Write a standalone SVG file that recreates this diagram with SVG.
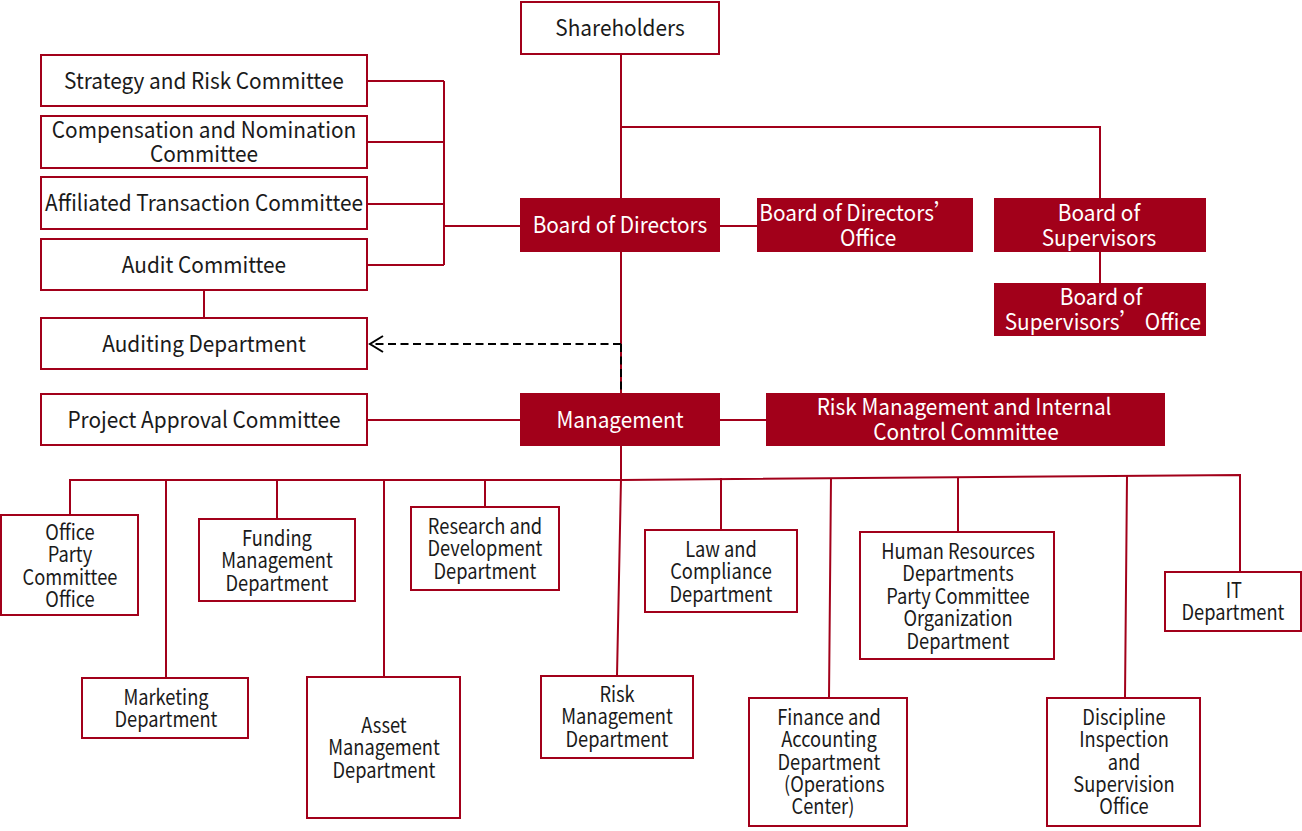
<svg xmlns="http://www.w3.org/2000/svg" width="1302" height="831" viewBox="0 0 1302 831">
<style>
.box{fill:#fff;stroke:#A2001A;stroke-width:2}
.fill{fill:#A2001A;stroke:none}
.t{font-family:"Noto Sans CJK SC","Noto Sans",sans-serif;font-size:22.5px;fill:#1a1a1a;text-anchor:middle}
.w{fill:#fff}
.s{font-size:21px}
.ln{stroke:#A2001A;stroke-width:2;fill:none}
.dash{stroke:#000;stroke-width:2;fill:none;stroke-dasharray:8,4.5}
</style>
<defs>
<marker id="arr" viewBox="-16 -10 18 20" refX="0" refY="0" markerWidth="18" markerHeight="20" markerUnits="userSpaceOnUse" orient="auto" overflow="visible">
<path d="M-13,-8 L0,0 L-13,8" fill="none" stroke="#000" stroke-width="2"/>
</marker>
</defs>
<rect width="1302" height="831" fill="#fff"/>
<g id="connectors">
<path class="ln" d="M621,54 V198 M621,127 H1100 V198 M1100,252 V283"/>
<path class="ln" d="M367,81 H444 M367,142 H444 M367,204 H444 M367,265 H444 M444,81 V265 M444,226 H520"/>
<path class="ln" d="M720,226 H757"/>
<path class="ln" d="M204,290 V318"/>
<path class="ln" d="M621,252 V393"/>
<path class="dash" d="M621,344 V393"/>
<path class="dash" d="M621,344 H370" marker-end="url(#arr)"/>
<path class="ln" d="M367,420 H520 M720,420 H766"/>
<path class="ln" d="M621,446 V479 M70,515 V480 H621 L1240,475 V572"/>
<path class="ln" d="M166,481 V678 M277,480 V519 M384,480 V677 M485,480 V507 M621,479 L617,676 M721,478 V530 M831,478 L829,698 M958,477 V532 M1127,476 L1125,698"/>
</g>
<g id="shareholders"><rect class="box" x="521" y="2" width="198" height="52"/><text class="t" transform="translate(620,0) scale(.925,1)"><tspan x="0" y="36">Shareholders</tspan></text></g>
<g id="strategy"><rect class="box" x="41" y="55" width="326" height="51"/><text class="t" transform="translate(204,0) scale(.925,1)"><tspan x="0" y="89">Strategy and Risk Committee</tspan></text></g>
<g id="compensation"><rect class="box" x="41" y="116" width="326" height="52"/><text class="t" transform="translate(204,0) scale(.925,1)"><tspan x="0" y="138">Compensation and Nomination</tspan><tspan x="0" y="162">Committee</tspan></text></g>
<g id="affiliated"><rect class="box" x="41" y="177" width="326" height="52"/><text class="t" transform="translate(204,0) scale(.925,1)"><tspan x="0" y="211">Affiliated Transaction Committee</tspan></text></g>
<g id="audit"><rect class="box" x="41" y="239" width="326" height="51"/><text class="t" transform="translate(204,0) scale(.925,1)"><tspan x="0" y="273">Audit Committee</tspan></text></g>
<g id="auditing"><rect class="box" x="41" y="318" width="326" height="51"/><text class="t" transform="translate(204,0) scale(.925,1)"><tspan x="0" y="352">Auditing Department</tspan></text></g>
<g id="project"><rect class="box" x="41" y="394" width="326" height="51"/><text class="t" transform="translate(204,0) scale(.925,1)"><tspan x="0" y="428">Project Approval Committee</tspan></text></g>
<g id="bod"><rect class="fill" x="520" y="198" width="200" height="54"/><text class="t w" transform="translate(620,0) scale(.925,1)"><tspan x="0" y="233">Board of Directors</tspan></text></g>
<g id="bodoffice"><rect class="fill" x="757" y="198" width="216" height="54"/><text class="t w" transform="translate(857,0) scale(.925,1)"><tspan x="0" y="221">Board of Directors’</tspan><tspan x="12" y="246">Office</tspan></text></g>
<g id="bos"><rect class="fill" x="994" y="198" width="212" height="54"/><text class="t w" transform="translate(1099,0) scale(.925,1)"><tspan x="0" y="221">Board of</tspan><tspan x="0" y="246">Supervisors</tspan></text></g>
<g id="bosoffice"><rect class="fill" x="994" y="283" width="212" height="53"/><text class="t w" transform="translate(1101,0) scale(.925,1)"><tspan x="0" y="305">Board of</tspan><tspan x="2" y="330">Supervisors’   Office</tspan></text></g>
<g id="management"><rect class="fill" x="520" y="393" width="200" height="53"/><text class="t w" transform="translate(620,0) scale(.925,1)"><tspan x="0" y="428">Management</tspan></text></g>
<g id="riskcontrol"><rect class="fill" x="766" y="393" width="399" height="53"/><text class="t w" transform="translate(965,0) scale(.925,1)"><tspan x="-1" y="415">Risk Management and Internal</tspan><tspan x="1" y="440">Control Committee</tspan></text></g>
<g id="officeparty"><rect class="box" x="1" y="515" width="137" height="100"/><text class="t s" transform="translate(70,0) scale(.87,1)"><tspan x="0" y="540">Office</tspan><tspan x="0" y="562">Party</tspan><tspan x="0" y="585">Committee</tspan><tspan x="0" y="607">Office</tspan></text></g>
<g id="marketing"><rect class="box" x="82" y="678" width="166" height="60"/><text class="t s" transform="translate(166,0) scale(.87,1)"><tspan x="0" y="705">Marketing</tspan><tspan x="0" y="727">Department</tspan></text></g>
<g id="funding"><rect class="box" x="199" y="519" width="156" height="82"/><text class="t s" transform="translate(277,0) scale(.87,1)"><tspan x="0" y="546">Funding</tspan><tspan x="0" y="568">Management</tspan><tspan x="0" y="591">Department</tspan></text></g>
<g id="asset"><rect class="box" x="307" y="677" width="153" height="141"/><text class="t s" transform="translate(384,0) scale(.87,1)"><tspan x="0" y="733">Asset</tspan><tspan x="0" y="755">Management</tspan><tspan x="0" y="778">Department</tspan></text></g>
<g id="research"><rect class="box" x="411" y="507" width="148" height="83"/><text class="t s" transform="translate(485,0) scale(.87,1)"><tspan x="0" y="534">Research and</tspan><tspan x="0" y="556">Development</tspan><tspan x="0" y="579">Department</tspan></text></g>
<g id="riskdept"><rect class="box" x="541" y="676" width="152" height="82"/><text class="t s" transform="translate(617,0) scale(.87,1)"><tspan x="0" y="702">Risk</tspan><tspan x="0" y="724">Management</tspan><tspan x="0" y="747">Department</tspan></text></g>
<g id="law"><rect class="box" x="645" y="530" width="152" height="82"/><text class="t s" transform="translate(721,0) scale(.87,1)"><tspan x="0" y="557">Law and</tspan><tspan x="0" y="579">Compliance</tspan><tspan x="0" y="602">Department</tspan></text></g>
<g id="finance"><rect class="box" x="749" y="698" width="158" height="128"/><text class="t s" transform="translate(829,0) scale(.87,1)"><tspan x="0" y="725">Finance and</tspan><tspan x="0" y="747">Accounting</tspan><tspan x="0" y="770">Department</tspan><tspan x="6" y="792">(Operations</tspan><tspan x="-7" y="814">Center)</tspan></text></g>
<g id="hr"><rect class="box" x="860" y="532" width="194" height="127"/><text class="t s" transform="translate(958,0) scale(.87,1)"><tspan x="0" y="559">Human Resources</tspan><tspan x="0" y="581">Departments</tspan><tspan x="0" y="604">Party Committee</tspan><tspan x="0" y="626">Organization</tspan><tspan x="0" y="649">Department</tspan></text></g>
<g id="it"><rect class="box" x="1165" y="572" width="136" height="59"/><text class="t s" transform="translate(1233,0) scale(.87,1)"><tspan x="1" y="598">IT</tspan><tspan x="0" y="620">Department</tspan></text></g>
<g id="discipline"><rect class="box" x="1047" y="698" width="153" height="128"/><text class="t s" transform="translate(1124,0) scale(.87,1)"><tspan x="0" y="725">Discipline</tspan><tspan x="0" y="747">Inspection</tspan><tspan x="0" y="770">and</tspan><tspan x="0" y="792">Supervision</tspan><tspan x="0" y="814">Office</tspan></text></g>
</svg>
